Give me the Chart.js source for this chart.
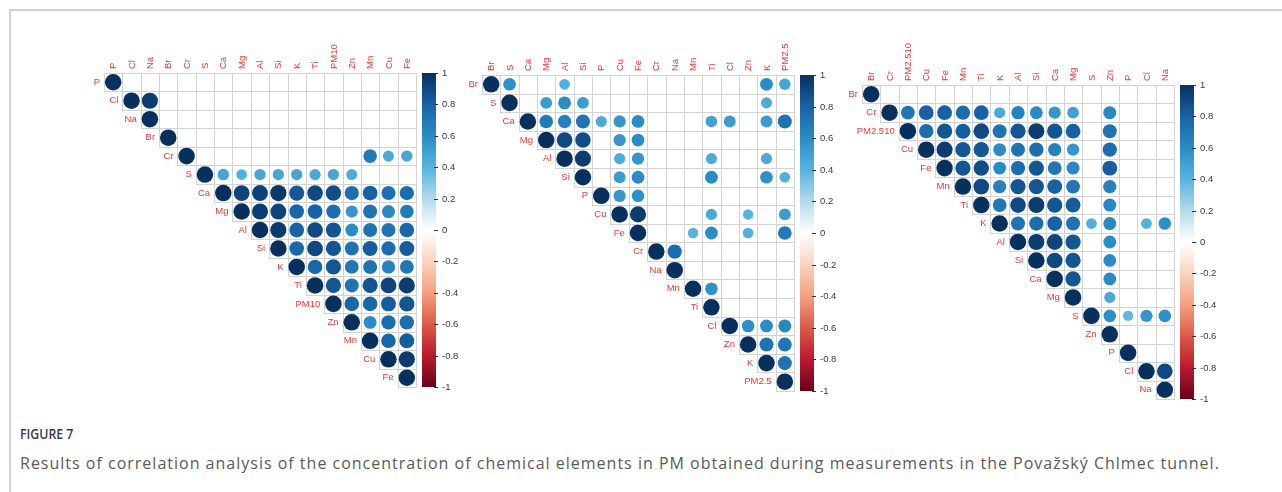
<!DOCTYPE html>
<html lang="en">
<head>
<meta charset="UTF-8">
<title>Figure 7 - correlation matrices</title>
<script src="https://cdn.jsdelivr.net/npm/chart.js@4.4.1/dist/chart.umd.min.js"></script>
<style>
  body { margin: 0; background: #fff; }
  #page { position: relative; width: 1282px; height: 492px; overflow: hidden; background: #fff; }
  #frame { position: absolute; left: 9px; top: 9px; width: 1300px; height: 500px;
           border-top: 2px solid #d2d2d2; border-left: 2px solid #d2d2d2; }
  canvas { position: absolute; }
  .fig-no { position: absolute; left: 20px; top: 424px; font: 600 14px "Open Sans", sans-serif; color: #3c3c3c;
            transform: scaleX(0.88); transform-origin: left center; }
  .fig-cap { position: absolute; left: 20px; top: 452px; font: 400 16px "Open Sans", sans-serif; color: #5a5a5a;
             white-space: nowrap; letter-spacing: 1px; }
</style>
</head>
<body>
<div id="page">
  <div id="frame"></div>
  <canvas id="pm10"></canvas>
  <canvas id="pm25"></canvas>
  <canvas id="pm2510"></canvas>
  <div class="fig-no">FIGURE 7</div>
  <div class="fig-cap">Results of correlation analysis of the concentration of chemical elements in PM obtained during measurements in the Považský Chlmec tunnel.</div>
</div>

<script>
// ---- data: upper triangle of each matrix, each row starts at the diagonal, null = not shown ----
const vars1 = ['P', 'Cl', 'Na', 'Br', 'Cr', 'S', 'Ca', 'Mg', 'Al', 'Si', 'K', 'Ti', 'PM10', 'Zn', 'Mn', 'Cu', 'Fe'];
const corr1 = [
    [1, null, null, null, null, null, null, null, null, null, null, null, null, null, null, null, null],
    [1, 0.95, null, null, null, null, null, null, null, null, null, null, null, null, null, null],
    [1, null, null, null, null, null, null, null, null, null, null, null, null, null, null],
    [1, null, null, null, null, null, null, null, null, null, null, null, null, null],
    [1, null, null, null, null, null, null, null, null, null, 0.68, 0.45, 0.47],
    [1, 0.48, 0.42, 0.47, 0.47, 0.47, 0.46, 0.47, 0.44, null, null, null],
    [1, 0.92, 0.93, 0.97, 0.84, 0.9, 0.88, 0.74, 0.8, 0.73, 0.75],
    [1, 0.95, 0.92, 0.78, 0.8, 0.75, 0.55, 0.72, 0.62, 0.68],
    [1, 0.96, 0.8, 0.9, 0.85, 0.6, 0.72, 0.72, 0.78],
    [1, 0.78, 0.9, 0.85, 0.72, 0.82, 0.75, 0.82],
    [1, 0.78, 0.85, 0.7, 0.72, 0.65, 0.7],
    [1, 0.85, 0.72, 0.85, 0.92, 0.95],
    [1, 0.78, 0.78, 0.82, 0.85],
    [1, 0.6, 0.75, 0.75],
    [1, 0.78, 0.82],
    [1, 0.96],
    [1]
];

const vars2 = ['Br', 'S', 'Ca', 'Mg', 'Al', 'Si', 'P', 'Cu', 'Fe', 'Cr', 'Na', 'Mn', 'Ti', 'Cl', 'Zn', 'K', 'PM2.5'];
const corr2 = [
    [1, 0.58, null, null, 0.42, null, null, null, null, null, null, null, null, null, null, 0.6, 0.48],
    [1, null, 0.52, 0.6, 0.52, null, null, null, null, null, null, null, null, null, 0.45, null],
    [1, 0.68, 0.65, 0.72, 0.45, 0.55, 0.6, null, null, null, 0.5, 0.52, null, 0.52, 0.72],
    [1, 0.9, 0.88, null, 0.55, 0.6, null, null, null, null, null, null, null, null],
    [1, 0.95, null, 0.45, 0.55, null, null, null, 0.45, null, null, 0.45, null],
    [1, null, 0.52, 0.6, null, null, null, 0.6, null, null, 0.58, 0.42],
    [1, 0.55, 0.58, null, null, null, null, null, null, null, null],
    [1, 0.95, null, null, null, 0.45, null, 0.4, null, 0.52],
    [1, null, null, 0.4, 0.6, null, 0.42, null, 0.68],
    [1, 0.75, null, null, null, null, null, null],
    [1, null, null, null, null, null, null],
    [1, 0.58, null, null, null, null],
    [1, null, null, null, null],
    [1, 0.58, 0.6, 0.62],
    [1, 0.72, 0.7],
    [1, 0.72],
    [1]
];

const vars3 = ['Br', 'Cr', 'PM2.510', 'Cu', 'Fe', 'Mn', 'Ti', 'K', 'Al', 'Si', 'Ca', 'Mg', 'S', 'Zn', 'P', 'Cl', 'Na'];
const corr3 = [
    [1, null, null, null, null, null, null, null, null, null, null, null, null, null, null, null, null],
    [1, 0.7, 0.8, 0.8, 0.75, 0.8, 0.45, 0.65, 0.6, 0.55, 0.5, null, 0.62, null, null, null],
    [1, 0.75, 0.85, 0.82, 0.9, 0.72, 0.85, 0.95, 0.85, 0.8, null, 0.72, null, null, null],
    [1, 0.95, 0.85, 0.85, 0.6, 0.72, 0.75, 0.65, 0.55, null, 0.75, null, null, null],
    [1, 0.85, 0.88, 0.6, 0.75, 0.85, 0.7, 0.62, null, 0.82, null, null, null],
    [1, 0.9, 0.65, 0.85, 0.85, 0.8, 0.7, null, 0.65, null, null, null],
    [1, 0.7, 0.9, 0.95, 0.85, 0.82, null, 0.62, null, null, null],
    [1, 0.72, 0.75, 0.8, 0.72, 0.42, 0.62, null, 0.42, 0.58],
    [1, 0.95, 0.92, 0.85, null, 0.6, null, null, null],
    [1, 0.9, 0.85, null, 0.6, null, null, null],
    [1, 0.85, null, 0.6, null, null, null],
    [1, null, 0.45, null, null, null],
    [1, 0.58, 0.38, 0.55, 0.58],
    [1, null, null, null],
    [1, null, null],
    [1, 0.9],
    [1]
];

// colour bar ticks
const cbTicks = [1, 0.8, 0.6, 0.4, 0.2, 0, -0.2, -0.4, -0.6, -0.8, -1];

// colour ramp (value -> colour), like corrplot RdBu
const rampVals = [-1, -0.8, -0.6, -0.4, -0.2, 0, 0.2, 0.4, 0.6, 0.8, 1];
const rampCols = ['#68001c', '#bb1a2e', '#dc5a48', '#f4a07f', '#fad3c2', '#ffffff',
                  '#b3daec', '#56b4de', '#2a8cc6', '#1762a6', '#08305e'];

function hexRgb(h) {
    return [parseInt(h.slice(1, 3), 16), parseInt(h.slice(3, 5), 16), parseInt(h.slice(5, 7), 16)];
}

function corrColor(v) {
    for (let k = 0; k < rampVals.length - 1; k++) {
        if (v <= rampVals[k + 1]) {
            const t = (v - rampVals[k]) / (rampVals[k + 1] - rampVals[k]);
            const a = hexRgb(rampCols[k]), b = hexRgb(rampCols[k + 1]);
            const c = a.map((x, i) => Math.round(x + (b[i] - x) * t));
            return `rgb(${c[0]},${c[1]},${c[2]})`;
        }
    }
    return rampCols[rampCols.length - 1];
}

const labelFont = '9.5px "Liberation Sans", Arial, sans-serif';
const labelRed = '#e23c3a';

// grid, labels and colour bar
const corrPlugin = {
    id: 'corrDecor',
    beforeDatasetsDraw(chart) {
        const { ctx, scales: { x, y } } = chart;
        const n = chart.$vars.length;
        ctx.save();
        ctx.strokeStyle = '#d4d4d4';
        ctx.lineWidth = 1;
        for (let i = 0; i < n; i++) {
            for (let j = i; j < n; j++) {
                const x0 = Math.round(x.getPixelForValue(j - 0.5)) + 0.5;
                const x1 = Math.round(x.getPixelForValue(j + 0.5)) + 0.5;
                const y0 = Math.round(y.getPixelForValue(i - 0.5)) + 0.5;
                const y1 = Math.round(y.getPixelForValue(i + 0.5)) + 0.5;
                ctx.strokeRect(x0, y0, x1 - x0, y1 - y0);
            }
        }
        ctx.restore();
    },
    afterDraw(chart) {
        const { ctx, chartArea, scales: { x, y, cb } } = chart;
        const vars = chart.$vars;
        ctx.save();
        ctx.font = labelFont;
        ctx.fillStyle = labelRed;

        // column labels on top, rotated
        vars.forEach((name, j) => {
            ctx.save();
            ctx.translate(x.getPixelForValue(j) + 0.5, chartArea.top - 4);
            ctx.rotate(-Math.PI / 2);
            ctx.textAlign = 'left';
            ctx.textBaseline = 'middle';
            ctx.fillText(name, 0, 0);
            ctx.restore();
        });

        // row labels next to the diagonal
        ctx.textAlign = 'right';
        ctx.textBaseline = 'middle';
        vars.forEach((name, i) => {
            ctx.fillText(name, x.getPixelForValue(i - 0.5) - 4, y.getPixelForValue(i));
        });

        // colour bar
        const bx = chartArea.right + 6, bw = 14;
        const top = cb.getPixelForValue(1), bottom = cb.getPixelForValue(-1);
        const grad = ctx.createLinearGradient(0, bottom, 0, top);
        rampVals.forEach((v, k) => grad.addColorStop((v + 1) / 2, rampCols[k]));
        ctx.fillStyle = grad;
        ctx.fillRect(bx, top, bw, bottom - top);

        ctx.strokeStyle = '#333';
        ctx.lineWidth = 1;
        ctx.fillStyle = '#3a3a3a';
        ctx.textAlign = 'left';
        cbTicks.forEach(v => {
            const py = Math.round(cb.getPixelForValue(v)) + 0.5;
            ctx.beginPath();
            ctx.moveTo(bx + bw - 2, py);
            ctx.lineTo(bx + bw + 2, py);
            ctx.stroke();
            ctx.fillText(String(v), bx + bw + 6, py);
        });
        ctx.restore();
    }
};

// vars for each canvas, read by the plugin
Chart.register({ id: 'varsHook', beforeInit(chart) { chart.$vars = chart.canvas.$vars || []; } });

const pad = { left: 60, top: 55, right: 110, bottom: 20 };

function makePanel(id, vars, corr, grid) {
    const canvas = document.getElementById(id);
    canvas.$vars = vars;
    canvas.width = grid.w + pad.left + pad.right;
    canvas.height = grid.h + pad.top + pad.bottom;
    canvas.style.left = (grid.left - pad.left) + 'px';
    canvas.style.top = (grid.top - pad.top) + 'px';

    const points = [];
    corr.forEach((row, i) => row.forEach((v, k) => {
        if (v !== null) points.push({ x: i + k, y: i, v: v });
    }));
    const n = vars.length;

    new Chart(canvas, {
        type: 'scatter',
        data: {
            datasets: [{
                data: points,
                pointBackgroundColor: c => c.raw ? corrColor(c.raw.v) : '#000',
                pointBorderWidth: 0,
                pointRadius: c => {
                    if (!c.raw) return 3;
                    const s = c.chart.scales.x;
                    const cell = Math.abs(s.getPixelForValue(1) - s.getPixelForValue(0));
                    return cell * 0.45 * Math.sqrt(Math.abs(c.raw.v));
                }
            }]
        },
        options: {
            responsive: false,
            animation: false,
            events: [],
            layout: { padding: pad },
            scales: {
                x: { type: 'linear', min: -0.5, max: n - 0.5, display: false },
                y: { type: 'linear', min: -0.5, max: n - 0.5, reverse: true, display: false },
                cb: { type: 'linear', axis: 'y', min: -1, max: 1, display: false }
            },
            plugins: { legend: { display: false }, tooltip: { enabled: false } }
        },
        plugins: [corrPlugin]
    });
}

makePanel('pm10', vars1, corr1, { left: 104, top: 73, w: 312, h: 314 });
makePanel('pm25', vars2, corr2, { left: 482, top: 75, w: 312, h: 316 });
makePanel('pm2510', vars3, corr3, { left: 862, top: 85, w: 312, h: 314 });
</script>
</body>
</html>
